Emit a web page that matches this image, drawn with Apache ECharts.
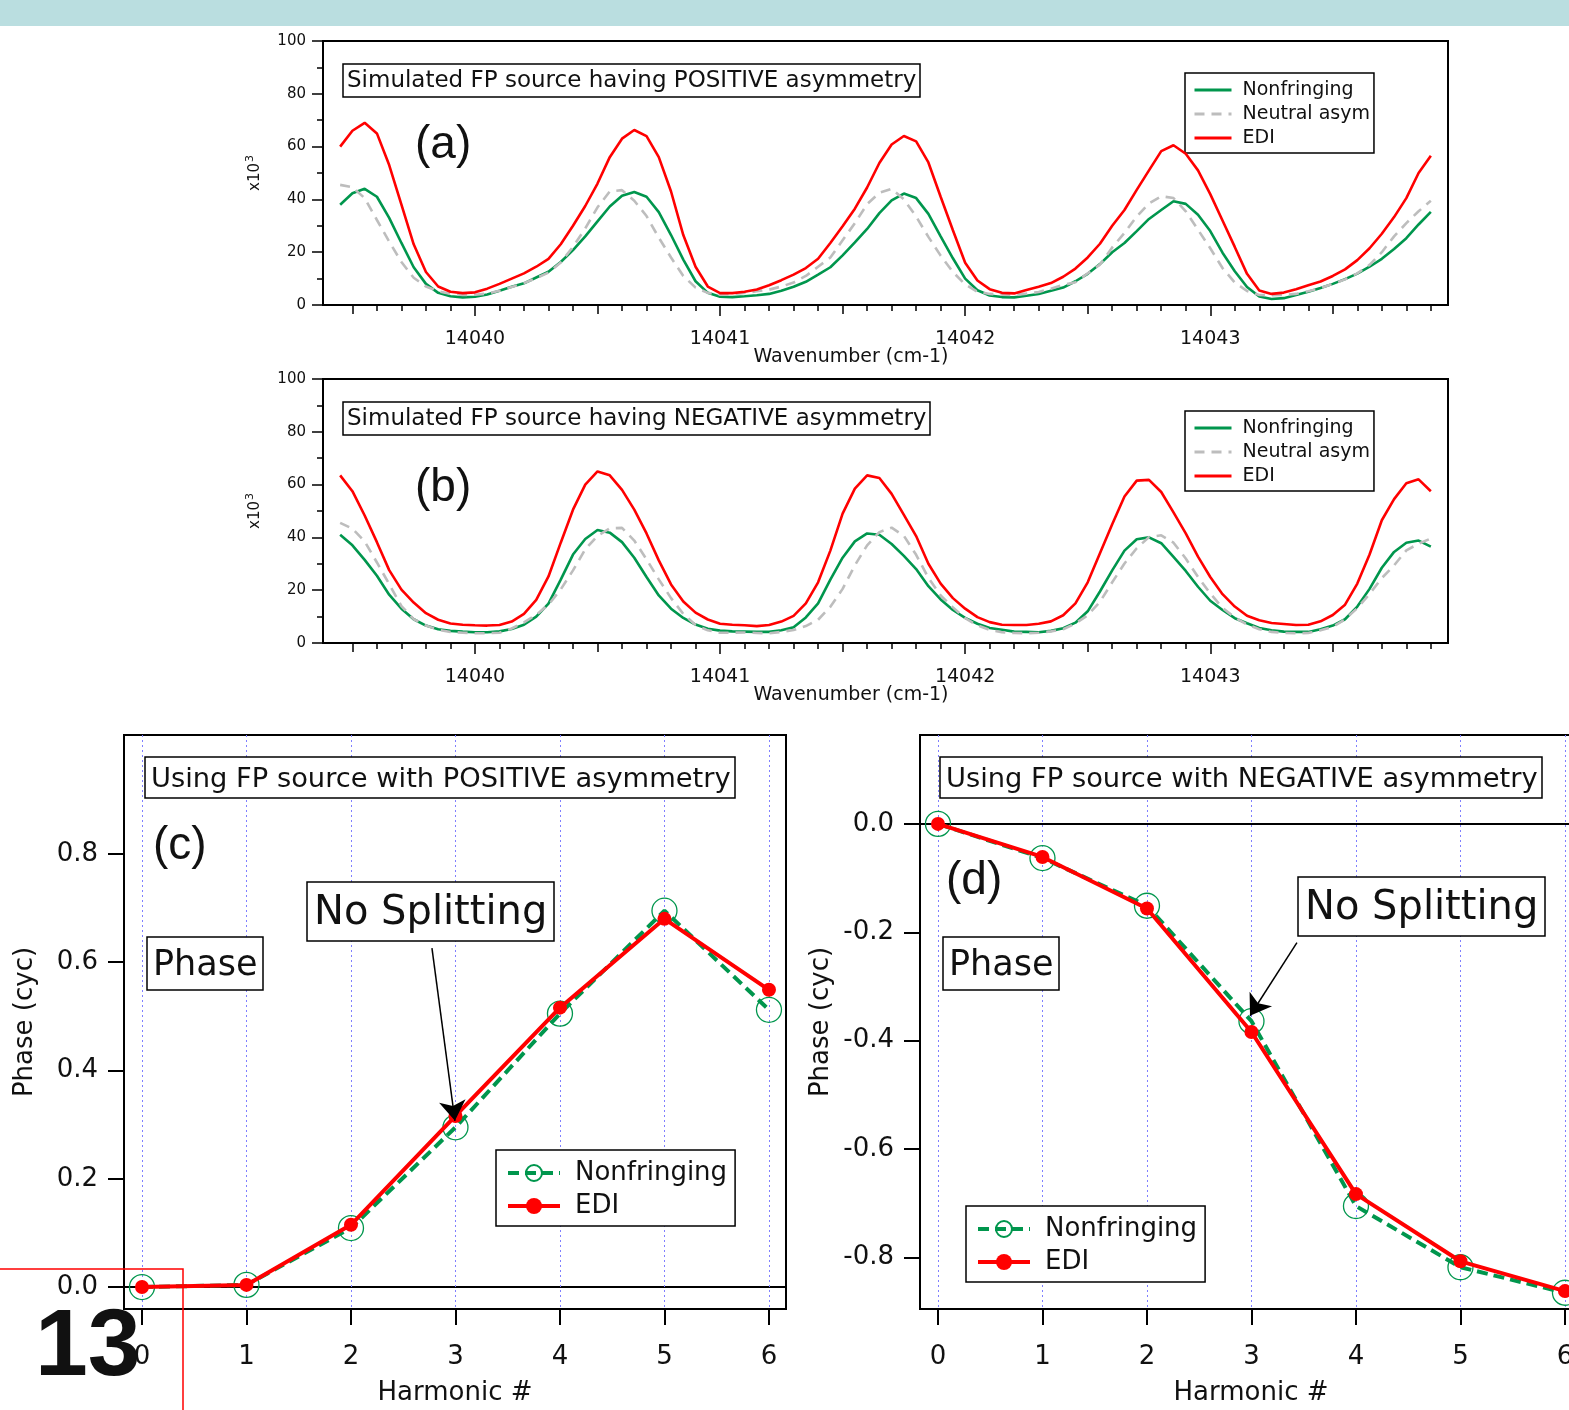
<!DOCTYPE html>
<html><head><meta charset="utf-8">
<script src="https://cdn.jsdelivr.net/npm/echarts@6/dist/echarts.min.js"></script>
<style>html,body{margin:0;padding:0;background:#fff}#c{width:1569px;height:1410px}</style>
</head><body><div id="c"></div>
<script>
// ---------------- DATA ----------------
const wavenumber = [
14039.45,14039.5,14039.55,14039.6,14039.65,14039.7,14039.75,14039.8,14039.85,14039.9,
14039.95,14040,14040.05,14040.1,14040.15,14040.2,14040.25,14040.3,14040.35,14040.4,
14040.45,14040.5,14040.55,14040.6,14040.65,14040.7,14040.75,14040.8,14040.85,14040.9,
14040.95,14041,14041.05,14041.1,14041.15,14041.2,14041.25,14041.3,14041.35,14041.4,
14041.45,14041.5,14041.55,14041.6,14041.65,14041.7,14041.75,14041.8,14041.85,14041.9,
14041.95,14042,14042.05,14042.1,14042.15,14042.2,14042.25,14042.3,14042.35,14042.4,
14042.45,14042.5,14042.55,14042.6,14042.65,14042.7,14042.75,14042.8,14042.85,14042.9,
14042.95,14043,14043.05,14043.1,14043.15,14043.2,14043.25,14043.3,14043.35,14043.4,
14043.45,14043.5,14043.55,14043.6,14043.65,14043.7,14043.75,14043.8,14043.85,14043.9];

// (a) positive asymmetry, intensity x10^3
const posNonfringing = [
38,42.3,44,41,33,23.5,14.3,8,4.6,3.3,
2.9,3.1,4,5.4,6.9,8.2,10.4,12.6,16.3,20.8,
26,31.7,37.3,41.4,42.8,41,35.2,26.5,17.2,9,
4.6,3.1,3,3.3,3.7,4.2,5.4,6.9,8.8,11.5,
14.3,18.8,23.7,28.8,34.8,39.6,42.2,40.5,34.5,26,
17.7,10,5.6,3.6,3,2.9,3.5,4.2,5.4,6.6,
9,11.8,15.5,20,23.5,28,32.6,36,39.3,38.3,
34.2,28,19.8,12.8,6.8,3.2,2.3,2.6,3.8,5,
6.4,8,9.8,11.9,14.5,17.5,21.2,25.3,30.5,35.3];
const posNeutral = [
45.5,44.6,40.5,32.2,24,16.3,10.3,7,5.2,4.2,
3.8,3.9,4.3,5.4,6.8,8.3,10.2,12.3,16.1,22,
29,37,43,43.5,39.5,33.7,25.5,18,11,6.6,
4.6,3.9,4.1,4.6,5.2,5.8,7,8.5,11,14.5,
18,24.5,31,38.2,42.5,44,40,33.5,25.8,18.7,
12.5,7.8,5,4.2,3.9,3.8,4.3,4.9,6.2,7.6,
8.6,12,15.3,21.8,27.3,33.5,38.5,41.2,40.5,35.5,
28.5,21.5,14,8.5,5.3,3.8,3.7,3.8,4.2,5.2,
6.4,8,9.7,12,15.2,20,26,31,35.5,39.5];
const posEDI = [
60,66,69,65,53,38,23,12.5,7,5,
4.5,4.8,6.2,8,10,12,14.5,17.5,23,30,
37.5,46,56,63,66.3,64,56,43,26.5,14.5,
7,4.5,4.5,5,5.9,7.5,9.4,11.5,14,17.5,
23.5,29.8,36.5,44.5,53.8,60.8,64,62,54,41,
28.3,16,9.3,6,4.6,4.4,5.7,6.9,8.3,10.7,
13.8,18,23.2,30,36,43.6,51,58.3,60.5,57.3,
51,42,32,22,11.8,5.5,4.2,4.7,6,7.5,
8.9,11,13.5,17,21.5,27,33.3,40.5,50,56.5];

// (b) negative asymmetry, intensity x10^3
const negNonfringing = [
41,37,31.5,25.5,18.3,13,9,6.6,5.2,4.6,
4.3,4.1,4.1,4.4,5.3,6.9,10,14.9,24,33.5,
39.4,42.8,41.8,38.2,32.3,25,18,13,9.5,7,
5.4,4.7,4.4,4.3,4.2,4.2,4.8,6,9.7,15,
24,32.3,38.5,41.5,41,37.5,33,28,21.5,16.5,
12.5,9.5,7.3,5.7,5,4.3,4.2,4.1,4.6,5.6,
7.7,12,19.5,27.5,35,39.3,40,37.8,32.6,27.3,
21.3,16,12.5,9.4,7.5,5.7,4.8,4.3,4.2,4.2,
5.2,6.6,9,13.8,20.5,28.5,34.5,38,38.8,36.5];
const negNeutral = [
45.5,43.3,38.5,30.5,22.3,14,9,6.6,5,4.2,
3.9,3.7,3.7,3.9,5.5,7.8,10.7,14.5,20.3,27.5,
35.5,40.6,43.4,43.6,38.8,31.7,24.1,17,11,6.8,
4.8,3.9,3.9,4,3.8,3.7,4.2,4.9,6.4,8.8,
13.7,20.5,29.4,37,42,43.7,40.6,33.4,24.7,18,
13.5,9.4,6.7,5,4.1,3.8,3.7,3.9,4.4,5.2,
7.4,10.5,15.6,23,30.1,35.9,40.1,40.8,38,32,
25,18.8,13.3,9.7,7,5.2,4.2,3.8,3.7,3.8,
4.8,6.1,9,13.2,18.6,24.6,29.4,35.1,37.6,39.6];
const negEDI = [
63.5,57.5,48.3,38.2,27.6,20.2,15.3,11.3,8.8,7.4,
6.9,6.7,6.6,6.8,8.1,11,16.3,25.2,38,50.5,
60,65,63.5,58,50.5,41.5,31.3,22.2,15.7,11.5,
8.9,7.3,6.9,6.7,6.4,6.8,8.1,10.3,15,23,
35,49,58.5,63.5,62.5,56.5,48.5,40.5,30,22.5,
17,13,9.8,7.9,6.9,6.8,6.8,7.3,8.2,10.5,
15,23,34,45,55.5,61.5,61.8,57.2,49.5,41.5,
32.7,25,18.5,13.8,10.3,8.6,7.6,7.2,6.8,6.9,
8.2,10.6,14.5,22.5,33.5,46.5,54.5,60.5,62,57.5];

// (c),(d) phase vs harmonic
const harmonics = [0,1,2,3,4,5,6];
const posPhaseNonfringing = [0, 0.004, 0.109, 0.295, 0.505, 0.695, 0.512];
const posPhaseEDI         = [0, 0.004, 0.115, 0.316, 0.516, 0.680, 0.549];
const negPhaseNonfringing = [0, -0.063, -0.151, -0.364, -0.705, -0.818, -0.865];
const negPhaseEDI         = [0, -0.061, -0.156, -0.384, -0.683, -0.807, -0.862];

// tick values
const wnMajorTicks = [14040,14041,14042,14043];
const wnHalfTicks = [14039.5,14040.5,14041.5,14042.5,14043.5];
const wnMinorTicks = [];
for (let k = 0; k <= 44; k++) wnMinorTicks.push(+(14039.5 + k*0.1).toFixed(1));
const posPhaseTicks = [0,0.2,0.4,0.6,0.8];
const negPhaseTicks = [0,-0.2,-0.4,-0.6,-0.8];
const zeroTick = [0];

// ---------------- STYLE ----------------
const FONT = 'DejaVu Sans';
const GREEN = '#00964d', RED = '#ff0000', GRAY = '#bdbdbd', BLUE = '#7f7fff', INK = '#111';

function boxTitle(text, left, top, size, pad) {
  return {text, left, top, padding: pad, borderColor: '#000', borderWidth: 1.5, backgroundColor: '#fff',
    textStyle: {fontFamily: FONT, fontSize: size, fontWeight: 'normal', color: INK, lineHeight: size}};
}
function plainTitle(text, left, top, size) {
  return {text, left, top, padding: 0,
    textStyle: {fontFamily: 'Liberation Sans', fontSize: size, fontWeight: 'normal', color: INK, lineHeight: size}};
}
function wnAxes(gridIndex) {
  const base = {type: 'value', gridIndex, min: 14039.38, max: 14043.97, position: 'bottom',
    splitLine: {show: false}, axisLabel: {show: false}, axisLine: {show: false, onZero: false}};
  const tl = {color: '#000', width: 1.5};
  return [
    Object.assign({}, base, {axisLine: {show: true, onZero: false, lineStyle: {color: '#000', width: 2}},
      axisTick: {show: true, customValues: wnMinorTicks, length: 6, lineStyle: tl}}),
    Object.assign({}, base, {axisTick: {show: true, customValues: wnHalfTicks, length: 9, lineStyle: tl}}),
    Object.assign({}, base, {axisTick: {show: true, customValues: wnMajorTicks, length: 11, lineStyle: tl},
      axisLabel: {show: true, customValues: wnMajorTicks, formatter: v => String(v),
        fontFamily: FONT, fontSize: 19, color: INK, margin: 25}})
  ];
}
function intensityAxis(gridIndex) {
  return {type: 'value', gridIndex, min: 0, max: 100, interval: 20, position: 'left',
    axisLine: {show: true, onZero: false, lineStyle: {color: '#000', width: 2}},
    axisTick: {show: true, length: 11, lineStyle: {color: '#000', width: 1.5}},
    minorTick: {show: true, splitNumber: 2, length: 6, lineStyle: {color: '#000', width: 1.5}},
    axisLabel: {fontFamily: FONT, fontSize: 15, color: INK, margin: 17},
    splitLine: {show: false},
    name: 'x10{sup|3}', nameLocation: 'middle', nameRotate: 90, nameGap: 57, nameMoveOverlap: false,
    nameTextStyle: {fontFamily: FONT, fontSize: 15, color: INK,
      rich: {sup: {fontFamily: FONT, fontSize: 11, color: INK, padding: [0, 0, 10, 1]}}}};
}
function harmonicAxis(gridIndex) {
  return {type: 'value', gridIndex, min: -0.172, max: 6.163, position: 'bottom',
    axisLine: {show: true, onZero: false, lineStyle: {color: '#000', width: 2}},
    axisTick: {show: true, customValues: harmonics, length: 16, lineStyle: {color: '#000', width: 2}},
    axisLabel: {show: true, customValues: harmonics, fontFamily: FONT, fontSize: 26, color: INK, margin: 35},
    splitLine: {show: true, lineStyle: {color: BLUE, width: 1, type: [2, 3]}},
    name: 'Harmonic #', nameLocation: 'middle', nameGap: 71, nameMoveOverlap: false,
    nameTextStyle: {fontFamily: FONT, fontSize: 26, color: INK}};
}
function phaseAxes(gridIndex, min, max, ticks) {
  return [
    {type: 'value', gridIndex, min, max, position: 'left',
      axisLine: {show: true, onZero: false, lineStyle: {color: '#000', width: 2}},
      axisTick: {show: true, customValues: ticks, length: 16, lineStyle: {color: '#000', width: 2}},
      axisLabel: {show: true, customValues: ticks, formatter: v => v.toFixed(1),
        fontFamily: FONT, fontSize: 26, color: INK, margin: 26},
      splitLine: {show: false},
      name: 'Phase (cyc)', nameLocation: 'middle', nameRotate: 90, nameGap: 86, nameMoveOverlap: false,
      nameTextStyle: {fontFamily: FONT, fontSize: 26, color: INK}},
    {type: 'value', gridIndex, min, max, position: 'left',
      axisLine: {show: false}, axisTick: {show: false, customValues: zeroTick},
      axisLabel: {show: false, customValues: zeroTick},
      splitLine: {show: true, lineStyle: {color: '#000', width: 2}}}
  ];
}
function spec(name, xi, yi, vals, color, dashed, z) {
  return {type: 'line', name, xAxisIndex: xi, yAxisIndex: yi, z,
    data: wavenumber.map((w, i) => [w, vals[i]]),
    symbol: 'none', showSymbol: false, silent: true,
    lineStyle: {color, width: 2.6, type: dashed ? [10, 7] : 'solid'}, itemStyle: {color}};
}
function phaseNF(name, xi, yi, vals) {
  return {type: 'line', name, xAxisIndex: xi, yAxisIndex: yi, z: 3, silent: true,
    data: harmonics.map((h, i) => [h, vals[i]]),
    symbol: 'circle', symbolSize: 25, showSymbol: true,
    itemStyle: {color: 'rgba(0,0,0,0)', borderColor: GREEN, borderWidth: 1.3},
    lineStyle: {color: GREEN, width: 4, type: [11, 6]}};
}
function phaseEDI(name, xi, yi, vals, arrow) {
  return {type: 'line', name, xAxisIndex: xi, yAxisIndex: yi, z: 4, silent: true,
    data: harmonics.map((h, i) => [h, vals[i]]),
    symbol: 'circle', symbolSize: 14, showSymbol: true,
    itemStyle: {color: RED}, lineStyle: {color: RED, width: 4},
    markLine: {silent: true, symbol: ['none', 'arrow'], symbolSize: 20, animation: false,
      lineStyle: {color: '#000', width: 1.5, type: 'solid'}, label: {show: false},
      emphasis: {disabled: true},
      data: [[{coord: arrow[0]}, {coord: arrow[1]}]]}};
}
function specLegend(prefix, top) {
  return {orient: 'vertical', left: 1185, top, padding: [5, 4, 3, 8], itemWidth: 37, itemHeight: 14, itemGap: 0,
    borderColor: '#000', borderWidth: 1.5, backgroundColor: '#fff', selectedMode: false,
    data: [prefix + 'Nonfringing', prefix + 'Neutral asym', prefix + 'EDI'],
    formatter: n => n.slice(2),
    textStyle: {fontFamily: FONT, fontSize: 19, color: INK, lineHeight: 24, padding: [0, 0, 0, 6]},
    itemStyle: {opacity: 0}, lineStyle: {width: 3}};
}
function phaseLegend(prefix, left, top) {
  return {orient: 'vertical', left, top, padding: [8, 8, 5, 10], itemWidth: 52, itemHeight: 20, itemGap: 3,
    borderColor: '#000', borderWidth: 1.5, backgroundColor: '#fff', selectedMode: false,
    data: [prefix + 'Nonfringing', prefix + 'EDI'],
    formatter: n => n.slice(2),
    textStyle: {fontFamily: FONT, fontSize: 26, color: INK, lineHeight: 30, padding: [0, 0, 0, 10]},
    lineStyle: {width: 4}};
}
const gridBase = {show: true, borderColor: '#000', borderWidth: 2, backgroundColor: 'rgba(0,0,0,0)',
  containLabel: false, outerBoundsMode: 'none'};

const option = {
  animation: false,
  backgroundColor: '#fff',
  textStyle: {fontFamily: FONT},
  grid: [
    Object.assign({left: 323, top: 41, width: 1125, height: 264}, gridBase),
    Object.assign({left: 323, top: 379, width: 1125, height: 264}, gridBase),
    Object.assign({left: 124, top: 735, width: 662, height: 574}, gridBase),
    Object.assign({left: 920, top: 735, width: 662, height: 574}, gridBase)
  ],
  xAxis: [].concat(wnAxes(0), wnAxes(1), [harmonicAxis(2), harmonicAxis(3)]),
  yAxis: [].concat([intensityAxis(0), intensityAxis(1)],
    phaseAxes(2, -0.0405, 1.0195, posPhaseTicks), phaseAxes(3, -0.895, 0.164, negPhaseTicks)),
  legend: [specLegend('a:', 73), specLegend('b:', 411),
    phaseLegend('c:', 496, 1150), phaseLegend('d:', 966, 1206)],
  title: [
    boxTitle('Simulated FP source having POSITIVE asymmetry', 343, 64, 23, [6, 4, 4, 4]),
    boxTitle('Simulated FP source having NEGATIVE asymmetry', 343, 402, 23, [6, 4, 4, 4]),
    plainTitle('(a)', 415, 122, 46),
    plainTitle('(b)', 415, 465, 46),
    boxTitle('Using FP source with POSITIVE asymmetry', 145, 757, 27.3, [9, 5, 5, 6]),
    boxTitle('Using FP source with NEGATIVE asymmetry', 940, 757, 27.3, [9, 5, 5, 6]),
    plainTitle('(c)', 153, 823, 46),
    plainTitle('(d)', 946, 858, 46),
    boxTitle('Phase', 147, 937, 35, [11, 6, 7, 6]),
    boxTitle('Phase', 943, 937, 35, [11, 6, 7, 6]),
    boxTitle('No Splitting', 307, 882, 40, [12, 7, 7, 7]),
    boxTitle('No Splitting', 1298, 877, 40, [12, 7, 7, 7])
  ],
  graphic: [
    {type: 'rect', shape: {x: 0, y: 0, width: 1569, height: 26}, style: {fill: '#badee0'}, z: 10},
    {type: 'text', x: 851, y: 357, z: 10, style: {text: 'Wavenumber (cm-1)', font: '19px "DejaVu Sans"', fill: INK, align: 'center', verticalAlign: 'middle'}},
    {type: 'text', x: 851, y: 695, z: 10, style: {text: 'Wavenumber (cm-1)', font: '19px "DejaVu Sans"', fill: INK, align: 'center', verticalAlign: 'middle'}},
    {type: 'rect', shape: {x: -2, y: 1269, width: 185, height: 160}, z: 100,
      style: {fill: 'none', stroke: RED, lineWidth: 1.5}},
    {type: 'text', x: 35, y: 1349, z: 101,
      style: {text: '13', font: 'bold 95px "Liberation Sans"', fill: INK, align: 'left', verticalAlign: 'middle'}}
  ],
  series: [
    spec('a:Nonfringing', 0, 0, posNonfringing, GREEN, false, 2),
    spec('a:Neutral asym', 0, 0, posNeutral, GRAY, true, 3),
    spec('a:EDI', 0, 0, posEDI, RED, false, 4),
    spec('b:Nonfringing', 3, 1, negNonfringing, GREEN, false, 2),
    spec('b:Neutral asym', 3, 1, negNeutral, GRAY, true, 3),
    spec('b:EDI', 3, 1, negEDI, RED, false, 4),
    phaseNF('c:Nonfringing', 6, 2, posPhaseNonfringing),
    phaseEDI('c:EDI', 6, 2, posPhaseEDI, [[2.775, 0.626], [2.995, 0.307]]),
    phaseNF('d:Nonfringing', 7, 4, negPhaseNonfringing),
    phaseEDI('d:EDI', 7, 4, negPhaseEDI, [[3.435, -0.219], [2.986, -0.354]])
  ]
};
const chart = echarts.init(document.getElementById('c'), null, {renderer: 'canvas'});
chart.setOption(option);
</script>
</body></html>
